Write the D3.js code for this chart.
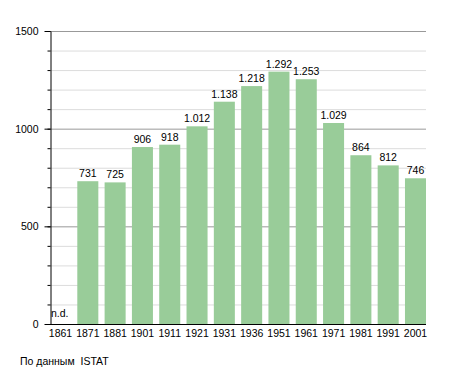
<!DOCTYPE html>
<html>
<head>
<meta charset="utf-8">
<script src="https://cdn.jsdelivr.net/npm/d3@7"></script>
<style>
  body { margin: 0; background: #fff; }
  text { font-family: "Liberation Sans", Arial, sans-serif; }
</style>
</head>
<body>
<svg id="chart"></svg>
<script>
let years = ['1861', '1871', '1881', '1901', '1911', '1921', '1931', '1936', '1951', '1961', '1971', '1981', '1991', '2001'];
let population = [null, 731, 725, 906, 918, 1012, 1138, 1218, 1292, 1253, 1029, 864, 812, 746];
let majorTicks = [0, 500, 1000, 1500];
let minorTicks = d3.range(0, 1501, 100);
let source = 'По данным  ISTAT';

function fmt(v) {
	// italian thousands separator
	let s = String(v);
	return s.length > 3 ? s.slice(0, s.length - 3) + '.' + s.slice(-3) : s;
}

function makeChart() {
	let w = 455;
	let h = 373;

	let chart = d3.select('#chart')
		.attr('width', w)
		.attr('height', h);

	let x = d3.scaleBand()
		.domain(years)
		.range([50, 426])
		.paddingInner(0.23)
		.paddingOuter(0)
		.align(0);

	let y = d3.scaleLinear()
		.domain([0, 1500])
		.range([324, 31]);

	// grid
	chart.selectAll('line.minor')
		.data(minorTicks.filter(d => majorTicks.indexOf(d) < 0))
		.enter()
		.append('line')
		.attr('x1', 50)
		.attr('x2', 426)
		.attr('y1', d => y(d) + 0.5)
		.attr('y2', d => y(d) + 0.5)
		.style('stroke', '#dcdcdc');

	chart.selectAll('line.major')
		.data(majorTicks.slice(1))
		.enter()
		.append('line')
		.attr('x1', 50)
		.attr('x2', 426)
		.attr('y1', d => y(d) + 0.5)
		.attr('y2', d => y(d) + 0.5)
		.style('stroke', '#999');

	// bars
	chart.selectAll('rect')
		.data(years.map((d, i) => ({year: d, v: population[i]})).filter(d => d.v != null))
		.enter()
		.append('rect')
		.attr('x', d => x(d.year))
		.attr('width', x.bandwidth())
		.attr('y', d => y(d.v))
		.attr('height', d => y(0) - y(d.v))
		.style('fill', '#99cc99');

	chart.selectAll('text.val')
		.data(years.map((d, i) => ({year: d, v: population[i]})))
		.enter()
		.append('text')
		.attr('x', d => d.v == null ? x(d.year) + 1 : x(d.year) + x.bandwidth() / 2)
		.attr('y', d => d.v == null ? y(0) - 7 : y(d.v) - 4)
		.attr('text-anchor', d => d.v == null ? 'start' : 'middle')
		.style('font-size', '10.5px')
		.text(d => d.v == null ? 'n.d.' : fmt(d.v));

	// y axis
	let yAxisMinor = d3.axisLeft(y)
		.tickValues(minorTicks)
		.tickSize(3)
		.tickFormat('');
	chart.append('g')
		.attr('transform', 'translate(50.5,0)')
		.call(yAxisMinor)
		.call(g => g.select('.domain').remove());

	let yAxis = d3.axisLeft(y)
		.tickValues(majorTicks)
		.tickFormat(d3.format('d'))
		.tickSize(6)
		.tickPadding(6)
		.tickSizeOuter(0);
	chart.append('g')
		.attr('transform', 'translate(50.5,0)')
		.call(yAxis)
		.call(g => g.selectAll('line, path').attr('stroke', '#000'))
		.call(g => g.selectAll('text').style('font-size', '10.5px').attr('fill', '#000'));

	// x axis
	let xAxis = d3.axisBottom(x)
		.tickSize(0)
		.tickPadding(5)
		.tickSizeOuter(0);
	chart.append('g')
		.attr('transform', 'translate(0,' + (y(0) + 0.5) + ')')
		.call(xAxis)
		.call(g => g.select('.domain').attr('d', 'M50,0H426').attr('stroke', '#000'))
		.call(g => g.selectAll('text').style('font-size', '10.5px').attr('fill', '#000'));

	chart.append('text')
		.attr('x', 20)
		.attr('y', 365)
		.style('font-size', '10.5px')
		.style('white-space', 'pre')
		.text(source);
}

window.onload = function () {
	makeChart();
}
</script>
</body>
</html>
